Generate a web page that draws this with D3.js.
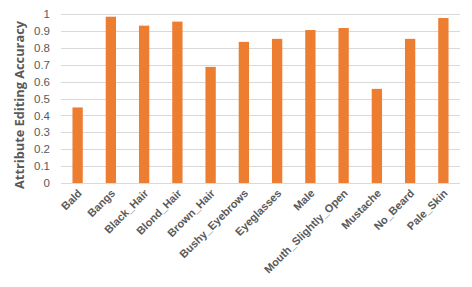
<!DOCTYPE html>
<html lang="en">
<head>
<meta charset="utf-8">
<title>attribute editing accuracy</title>
<script src="https://d3js.org/d3.v7.min.js"></script>
<style>
  body { margin: 0; background: #fff; }
  .grid line { stroke: #d9d9d9; stroke-width: 1px; }
  .tick text { fill: #595959; }
</style>
</head>
<body>
<script>
// data
var attributes = ["Bald", "Bangs", "Black_Hair", "Blond_Hair", "Brown_Hair", "Bushy_Eyebrows",
                  "Eyeglasses", "Male", "Mouth_Slightly_Open", "Mustache", "No_Beard", "Pale_Skin"];
var accuracy = [0.447, 0.984, 0.931, 0.955, 0.687, 0.835, 0.853, 0.905, 0.917, 0.557, 0.853, 0.976];
var yTicks = [0, 0.1, 0.2, 0.3, 0.4, 0.5, 0.6, 0.7, 0.8, 0.9, 1];

var w = 472, h = 287;
var margin = {top: 14, right: 12, bottom: 104, left: 61};
var innerW = w - margin.left - margin.right;
var innerH = h - margin.top - margin.bottom;

var svg = d3.select("body").append("svg")
            .attr("width", w)
            .attr("height", h)
            .style("font-family", "'Open Sans', sans-serif");

var g = svg.append("g").attr("transform", `translate(${margin.left},${margin.top})`);

var xScale = d3.scaleBand().domain(attributes).range([0, innerW]).paddingInner(0.69).paddingOuter(0.345);
var yScale = d3.scaleLinear().domain([0, 1]).range([innerH, 0]);

// gridlines
g.append("g").attr("class", "grid")
 .selectAll("line").data(yTicks).enter().append("line")
 .attr("x1", 0).attr("x2", innerW)
 .attr("y1", d => Math.round(yScale(d)) + 0.5)
 .attr("y2", d => Math.round(yScale(d)) + 0.5);

// bars
g.selectAll("rect.bar").data(accuracy).enter().append("rect")
 .attr("class", "bar")
 .attr("x", (d, i) => xScale(attributes[i]))
 .attr("width", xScale.bandwidth())
 .attr("y", d => yScale(d))
 .attr("height", d => innerH - yScale(d))
 .attr("fill", "#ed7d31");

// y axis
var yAxis = d3.axisLeft(yScale).tickValues(yTicks).tickSize(0).tickPadding(11)
              .tickFormat(d => d3.format("~g")(d));
var yg = g.append("g").call(yAxis);
yg.select(".domain").remove();
yg.selectAll("text").style("font-size", "11.5px");

// x axis
var xAxis = d3.axisBottom(xScale).tickSize(0).tickPadding(0);
var xg = g.append("g").attr("transform", `translate(0,${innerH})`).call(xAxis);
xg.select(".domain").remove();
xg.selectAll("text")
  .attr("text-anchor", "end")
  .attr("dy", 0)
  .attr("transform", "translate(5,11) rotate(-45)")
  .style("font-size", "11px")
  .style("font-weight", "bold");

// y title
svg.append("text")
   .attr("transform", "translate(24,105) rotate(-90)")
   .attr("text-anchor", "middle")
   .style("font-size", "12.8px")
   .style("font-weight", "bold")
   .attr("fill", "#595959")
   .text("Attribute Editing Accuracy");
</script>
</body>
</html>
